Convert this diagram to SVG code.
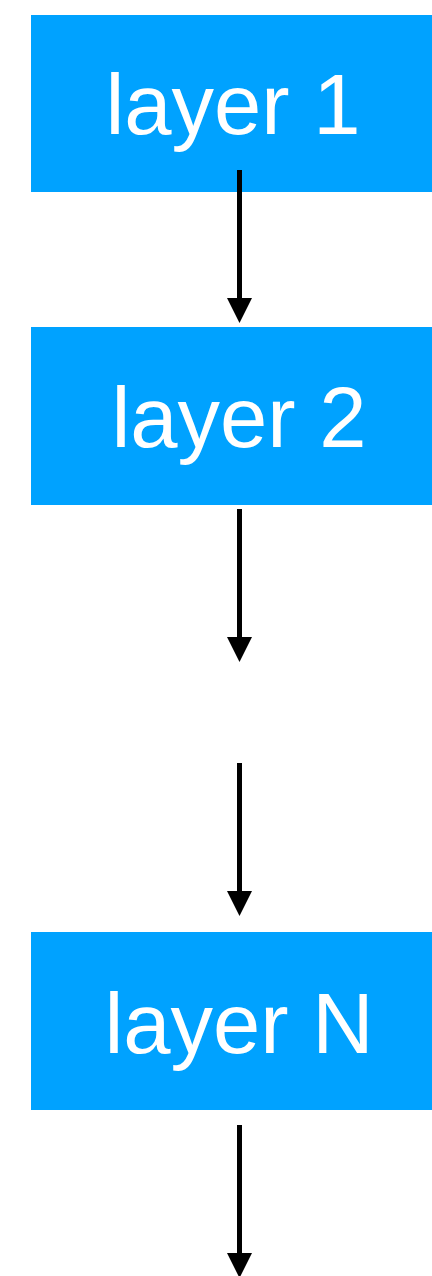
<svg xmlns="http://www.w3.org/2000/svg" width="432" height="1276" viewBox="0 0 432 1276">
<style>
.box{fill:#00A2FF}
.lbl{fill:#FFFFFF;font-family:"Liberation Sans",Arial,Helvetica,sans-serif;font-size:85px;text-anchor:middle}
.conn{stroke:#000000;stroke-width:5;fill:none}
.head{fill:#000000}
</style>
<rect width="432" height="1276" fill="#FFFFFF"/>
<g id="node-layer1">
<rect class="box" x="31" y="15" width="401" height="177"/>
<text class="lbl" x="233" y="134">layer 1</text>
</g>
<g id="node-layer2">
<rect class="box" x="31" y="327" width="401" height="178"/>
<text class="lbl" x="239" y="447">layer 2</text>
</g>
<g id="node-layerN">
<rect class="box" x="31" y="932" width="401" height="178"/>
<text class="lbl" x="239" y="1053">layer N</text>
</g>
<g id="connectors">
<line class="conn" x1="239.5" y1="170" x2="239.5" y2="300"/>
<polygon class="head" points="227,298 252,298 239.5,323"/>
<line class="conn" x1="239.5" y1="509" x2="239.5" y2="639"/>
<polygon class="head" points="227,637 252,637 239.5,662"/>
<line class="conn" x1="239.5" y1="763" x2="239.5" y2="893"/>
<polygon class="head" points="227,891 252,891 239.5,916"/>
<line class="conn" x1="239.5" y1="1125" x2="239.5" y2="1255"/>
<polygon class="head" points="227,1253 252,1253 239.5,1278"/>
</g>
</svg>
